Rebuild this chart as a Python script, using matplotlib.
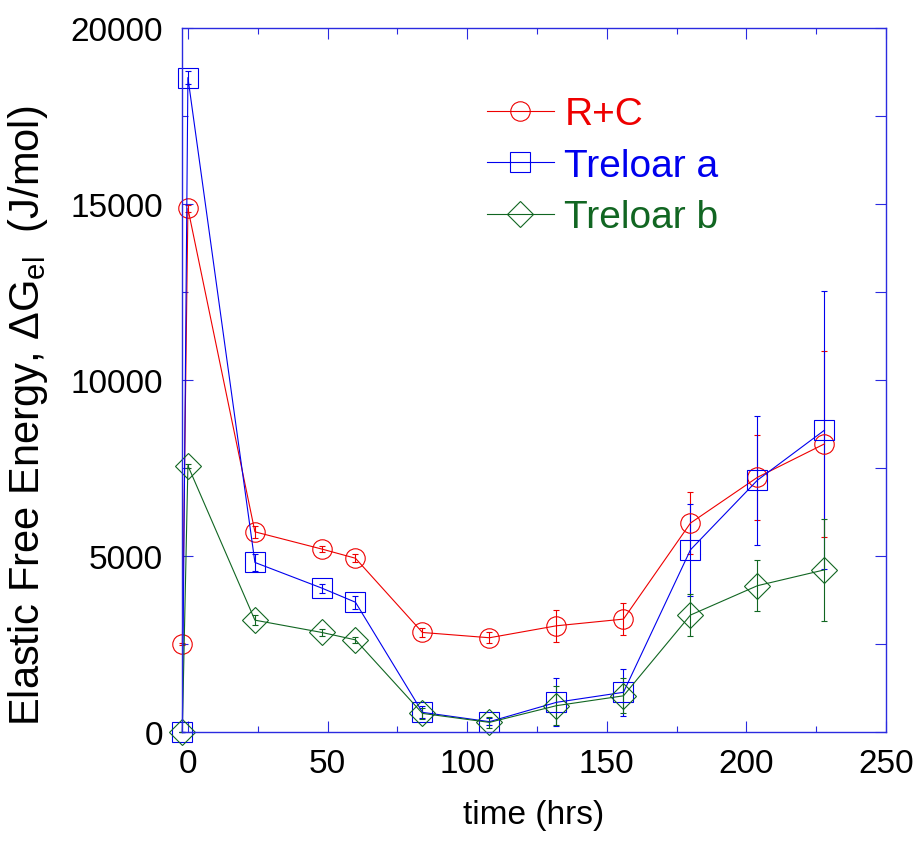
import numpy as np
import matplotlib
matplotlib.use('Agg')
import matplotlib.pyplot as plt
from matplotlib.ticker import MultipleLocator

plt.rcParams['font.family'] = ['Liberation Sans', 'DejaVu Sans']
plt.rcParams['mathtext.fontset'] = 'custom'
plt.rcParams['mathtext.rm'] = 'Liberation Sans'
plt.rcParams['mathtext.it'] = 'Liberation Sans:italic'

# data
time_hrs = [-2, 0, 24, 48, 60, 84, 108, 132, 156, 180, 204, 228]

rc_vals = [2480, 14870, 5680, 5190, 4930, 2820, 2670, 3010, 3200, 5930, 7230, 8180]
rc_err = [30, 110, 165, 95, 115, 130, 150, 460, 455, 890, 1215, 2640]

tra_vals = [0, 18590, 4810, 4080, 3680, 550, 285, 835, 1120, 5170, 7150, 8570]
tra_err = [0, 190, 250, 130, 180, 170, 100, 680, 675, 1315, 1830, 3960]

trb_vals = [0, 7560, 3170, 2820, 2610, 520, 265, 740, 1020, 3315, 4150, 4600]
trb_err = [0, 60, 135, 90, 90, 150, 150, 555, 500, 590, 725, 1455]

labels = ['R+C', 'Treloar a', 'Treloar b']

red = '#ee0000'
blue = '#0000ee'
green = '#116622'
frame = '#2a2ae0'

fig = plt.figure(figsize=(9.19, 8.45), dpi=100)
ax = fig.add_axes([0.1984, 0.1329, 0.7656, 0.8328])


def draw(y, err, color, marker, ms):
    line, caps, bars = ax.errorbar(time_hrs, y, yerr=err, color=color,
                                   marker=marker, ms=ms, mfc='none', mec=color,
                                   mew=0.8, lw=0.8, elinewidth=0.8,
                                   capsize=2.4, capthick=0.8)
    for a in [line, *caps, *bars]:
        a.set_clip_on(False)
    return line


l1 = draw(rc_vals, rc_err, red, 'o', 14)
l2 = draw(tra_vals, tra_err, blue, 's', 14)
l3 = draw(trb_vals, trb_err, green, 'D', 13)

ax.set_xlim(-2, 250)
ax.set_ylim(0, 20000)
ax.xaxis.set_major_locator(MultipleLocator(50))
ax.xaxis.set_minor_locator(MultipleLocator(25))
ax.yaxis.set_major_locator(MultipleLocator(5000))
ax.yaxis.set_minor_locator(MultipleLocator(2500))

for s in ax.spines.values():
    s.set_color(frame)
    s.set_linewidth(1.0)

ax.tick_params(which='both', direction='in', top=True, right=False,
               color=frame, width=0.8, labelsize=24)
ax.tick_params(which='major', length=8)
ax.tick_params(which='minor', length=4.2)
ax.tick_params(axis='x', pad=12)
ax.tick_params(axis='y', pad=14)

# right side ticks are all the same length
ax2 = ax.twinx()
ax2.set_ylim(0, 20000)
ax2.yaxis.set_major_locator(MultipleLocator(2500))
ax2.tick_params(direction='in', length=8, width=0.8, color=frame,
                labelright=False)
for s in ax2.spines.values():
    s.set_visible(False)

ax.set_xlabel('time (hrs)', fontsize=24, labelpad=14)
ax.set_ylabel('Elastic Free Energy, \u0394G$_{\\rm el}$  (J/mol)', fontsize=30)
ax.yaxis.set_label_coords(-0.188, 0.45)

ax2.legend(handles=[l1, l2, l3], labels=labels, loc='upper left',
           bbox_to_anchor=(0.5296, 0.885), bbox_transform=fig.transFigure,
           frameon=False, fontsize=28, handlelength=1.72, handletextpad=0.28,
           labelspacing=0.4, borderpad=0, borderaxespad=0,
           labelcolor='linecolor', numpoints=1)

fig.savefig('out.png', dpi=100)
